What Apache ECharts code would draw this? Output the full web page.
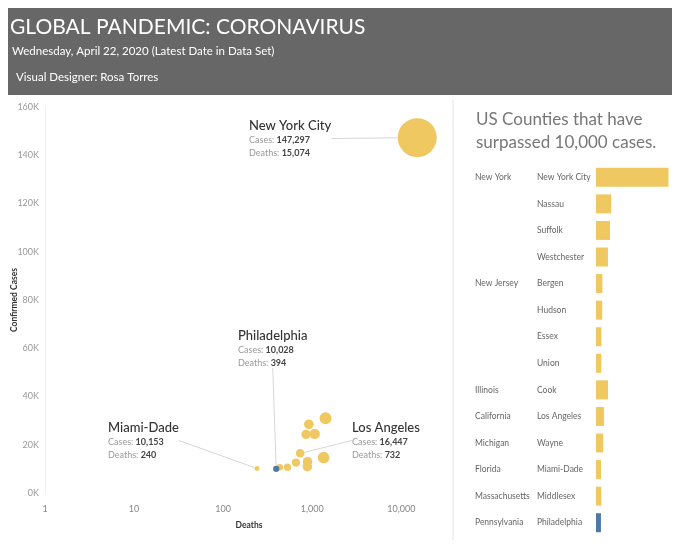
<!DOCTYPE html>
<html>
<head>
<meta charset="utf-8">
<script src="https://cdn.jsdelivr.net/npm/echarts@6/dist/echarts.min.js"></script>
<style>
  html, body { margin: 0; padding: 0; background: #fff; }
</style>
</head>
<body>
<div id="main" style="width: 680px;height:544px;"></div>
<script type="text/javascript">
    // 数据
    var counties = ['New York City', 'Nassau', 'Suffolk', 'Westchester', 'Bergen', 'Hudson', 'Essex',
        'Union', 'Cook', 'Los Angeles', 'Wayne', 'Miami-Dade', 'Middlesex', 'Philadelphia'];
    var states = ['New York', 'New York', 'New York', 'New York', 'New Jersey', 'New Jersey', 'New Jersey',
        'New Jersey', 'Illinois', 'California', 'Michigan', 'Florida', 'Massachusetts', 'Pennsylvania'];
    var cases = [147297, 31000, 28500, 24300, 13000, 12600, 10900,
        10700, 24500, 16447, 14700, 10153, 10700, 10028];
    var deaths = [15074, 1410, 915, 850, 885, 656, 880,
        527, 1066, 732, 1342, 240, 432, 394];
    var yTicks = [0, 20000, 40000, 60000, 80000, 100000, 120000, 140000, 160000];
    var labelled = ['New York City', 'Philadelphia', 'Miami-Dade', 'Los Angeles'];
    var highlight = 'Philadelphia';

    var yellow = '#F0C862';
    var blue = '#4E79A7';
    var font = 'Lato';

    // 标注位置（只是样式）
    var labelPos = {
        'New York City': { x: 249, y: 117, padding: [0, 30, 0, 0] },
        'Philadelphia': { x: 238, y: 327, padding: [0, 0, 6, 0] },
        'Miami-Dade': { x: 108, y: 419, padding: [0, 18, 0, 0] },
        'Los Angeles': { x: 348, y: 419, padding: [0, 0, 0, 4] }
    };

    var fmt = function (n) { return Math.round(n).toLocaleString('en-US'); };

    var scatterData = counties.map(function (c, i) {
        var item = { name: c, value: [deaths[i], cases[i]] };
        if (c === highlight) item.itemStyle = { color: blue };
        if (labelled.indexOf(c) >= 0) {
            item.label = { show: true, padding: labelPos[c].padding };
            item.labelLine = { show: true };
        }
        return item;
    });

    var barData = counties.map(function (c, i) {
        var item = { value: cases[i] };
        if (c === highlight) item.itemStyle = { color: blue };
        return item;
    });

    var myChart = echarts.init(document.getElementById('main'));

    var option = {
        animation: false,
        textStyle: { fontFamily: font },
        title: [
            { text: 'GLOBAL PANDEMIC: CORONAVIRUS', left: 10, top: 17, padding: 0,
              textStyle: { color: '#fff', fontSize: 21, fontWeight: 'normal', fontFamily: font } },
            { text: 'Wednesday, April 22, 2020 (Latest Date in Data Set)', left: 12, top: 45, padding: 0,
              textStyle: { color: '#fff', fontSize: 11.5, fontWeight: 'normal', fontFamily: font } },
            { text: 'Visual Designer: Rosa Torres', left: 16, top: 71, padding: 0,
              textStyle: { color: '#fff', fontSize: 11.5, fontWeight: 'normal', fontFamily: font } },
            { text: 'US Counties that have\nsurpassed 10,000 cases.', left: 476, top: 108, padding: 0,
              textStyle: { color: '#777', fontSize: 17, lineHeight: 23, fontWeight: 'normal', fontFamily: font } }
        ],
        graphic: [
            { type: 'rect', z: -10, shape: { x: 8, y: 8, width: 664, height: 87 }, style: { fill: '#676767' } },
            { type: 'rect', z: -10, shape: { x: 452, y: 100, width: 2, height: 440 }, style: { fill: '#f1f1f1' } }
        ],
        grid: [
            { left: 45, top: 107, width: 408, height: 386, outerBoundsMode: 'none' },
            { left: 596, top: 164, width: 72.5, height: 372, outerBoundsMode: 'none' }
        ],
        xAxis: [
            {
                gridIndex: 0, type: 'log', logBase: 10, min: 1, max: 38000,
                name: 'Deaths', nameLocation: 'middle', nameGap: 28, nameMoveOverlap: false,
                nameTextStyle: { color: '#333', fontSize: 8.5, fontWeight: 'bold', fontFamily: font },
                axisLine: { show: false }, axisTick: { show: false }, splitLine: { show: false },
                axisLabel: { color: '#888', fontSize: 9, margin: 12, showMaxLabel: false,
                    formatter: function (v) { return fmt(v); } }
            },
            { gridIndex: 1, type: 'value', min: 0, max: 'dataMax', show: false }
        ],
        yAxis: [
            {
                gridIndex: 0, type: 'value', min: yTicks[0], max: yTicks[yTicks.length - 1],
                interval: yTicks[1] - yTicks[0],
                name: 'Confirmed Cases', nameLocation: 'middle', nameGap: 26, nameMoveOverlap: false,
                nameTextStyle: { color: '#333', fontSize: 8.5, fontWeight: 'bold', fontFamily: font },
                axisLine: { show: true, lineStyle: { color: '#f2f2f2' } },
                axisTick: { show: false }, splitLine: { show: false },
                axisLabel: { color: '#999', fontSize: 9, margin: 6,
                    formatter: function (v) { return v / 1000 + 'K'; } }
            },
            {
                gridIndex: 1, type: 'category', data: counties, inverse: true,
                axisLine: { show: false }, axisTick: { show: false }, splitLine: { show: false },
                axisLabel: {
                    align: 'left', margin: 121, color: '#666', fontSize: 8.5,
                    formatter: function (v, i) {
                        var s = (i === 0 || states[i] !== states[i - 1]) ? states[i] : '';
                        return '{s|' + s + '}{c|' + v + '}';
                    },
                    rich: {
                        s: { width: 62, color: '#666', fontSize: 8.5, fontFamily: font },
                        c: { color: '#666', fontSize: 8.5, fontFamily: font }
                    }
                }
            }
        ],
        series: [
            {
                type: 'scatter', xAxisIndex: 0, yAxisIndex: 0,
                data: scatterData,
                symbolSize: function (val) { return 39 * Math.sqrt(val[0] / deaths[0]); },
                itemStyle: { color: yellow, opacity: 1 },
                label: {
                    show: false,
                    formatter: function (p) {
                        return '{t|' + p.name + '}\n{k|Cases: }{v|' + fmt(p.value[1]) + '}\n{k|Deaths: }{v|' + fmt(p.value[0]) + '}';
                    },
                    rich: {
                        t: { fontSize: 13, color: '#333', lineHeight: 17, fontFamily: font, fontWeight: 500 },
                        k: { fontSize: 9, color: '#999', lineHeight: 13, fontFamily: font },
                        v: { fontSize: 9, color: '#444', lineHeight: 13, fontWeight: 'bold', fontFamily: font }
                    }
                },
                labelLine: { show: false, lineStyle: { color: '#d6d6d6', width: 1 } },
                labelLayout: function (params) {
                    var name = counties[params.dataIndex];
                    var p = labelPos[name];
                    if (!p) return {};
                    return { x: p.x, y: p.y, align: 'left', verticalAlign: 'top' };
                }
            },
            {
                type: 'bar', xAxisIndex: 1, yAxisIndex: 1,
                data: barData, barWidth: 19,
                itemStyle: { color: yellow }
            }
        ]
    };

    myChart.setOption(option);
</script>
</body>
</html>
